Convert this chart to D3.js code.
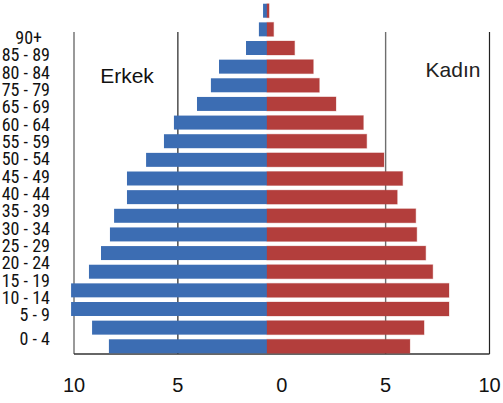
<!DOCTYPE html>
<html>
<head>
<meta charset="utf-8">
<script src="https://cdn.jsdelivr.net/npm/d3@7"></script>
<style>
  body { margin: 0; background: #fff; }
  svg { display: block; }
</style>
</head>
<body>
<svg width="503" height="403"></svg>
<script>
const width = 503;
const height = 403;

// age groups, top to bottom
const ages = ["90+", "85-89", "80-84", "75-79", "70-74", "65-69", "60-64", "55-59",
  "50-54", "45-49", "40-44", "35-39", "30-34", "25-29", "20-24", "15-19",
  "10-14", "5-9", "0-4"];

// percent of population
const erkek = [0.19, 0.39, 1.01, 2.31, 2.70, 3.37, 4.48, 4.96, 5.82, 6.74, 6.74,
  7.36, 7.56, 7.99, 8.57, 9.43, 9.43, 8.42, 7.61];
const kadin = [0.10, 0.32, 1.33, 2.23, 2.52, 3.32, 4.64, 4.80, 5.63, 6.53, 6.27,
  7.16, 7.21, 7.64, 7.98, 8.76, 8.76, 7.56, 6.88];

// the label column as printed (70 - 74 is missing in the original)
const ageLabels = ["90+", "85 - 89", "80 - 84", "75 - 79", "65 - 69", "60 - 64",
  "55 - 59", "50 - 54", "45 - 49", "40 - 44", "35 - 39", "30 - 34", "25 - 29",
  "20 - 24", "15 - 19", "10 - 14", "5 - 9", "0 - 4"];

const tickValues = [-10, -5, 0, 5, 10];
const gridValues = [-10, -5, 5, 10];

const blue = "#3c6db3";
const red = "#b33e3c";

const svg = d3.select("svg");

// axis scale (ticks + frame)
const ax = d3.scaleLinear().domain([-10, 10]).range([74, 489.5]);
// bars are drawn from x = 267 with the same unit size
const unit = (ax(10) - ax(-10)) / 20;
const bx = d3.scaleLinear().domain([-10, 10]).range([267 - 10 * unit, 267 + 10 * unit]);

const y = d3.scaleBand()
  .domain(ages)
  .range([0, 357])
  .paddingInner(0.25)
  .paddingOuter(0.2);

const frameTop = 32;
const frameBottom = 354;

// frame and grid
svg.append("g")
  .selectAll("line")
  .data(gridValues)
  .join("line")
  .attr("x1", d => ax(d))
  .attr("x2", d => ax(d))
  .attr("y1", frameTop)
  .attr("y2", frameBottom)
  .attr("stroke", d => d === 5 ? "#6e6e6e" : (d === -10 ? "#555" : "#222"))
  .attr("stroke-width", d => d === 5 ? 1.4 : 1.2);

svg.append("line")
  .attr("x1", ax(-10))
  .attr("x2", ax(10))
  .attr("y1", frameBottom)
  .attr("y2", frameBottom)
  .attr("stroke", "#333")
  .attr("stroke-width", 1.3);

// bars
svg.append("g")
  .selectAll("rect")
  .data(ages)
  .join("rect")
  .attr("x", (d, i) => bx(-erkek[i]))
  .attr("y", d => y(d))
  .attr("width", (d, i) => bx(0) - bx(-erkek[i]))
  .attr("height", y.bandwidth())
  .attr("fill", blue);

svg.append("g")
  .selectAll("rect")
  .data(ages)
  .join("rect")
  .attr("x", bx(0))
  .attr("y", d => y(d))
  .attr("width", (d, i) => bx(kadin[i]) - bx(0))
  .attr("height", y.bandwidth())
  .attr("fill", red)
  .attr("stroke", "rgba(179,62,60,0.3)")
  .attr("stroke-width", 1);

// age label column
const ly = d3.scalePoint()
  .domain(ageLabels.slice(0, ageLabels.length - 1))
  .range([37.7, 315]);
const lstep = ly.step();

svg.append("g")
  .selectAll("text")
  .data(ageLabels)
  .join("text")
  .attr("x", d => d === "90+" ? 42 : 50)
  .attr("y", (d, i) => i < ageLabels.length - 1 ? ly(d) : 315 + lstep * 1.38)
  .attr("dy", "0.35em")
  .attr("text-anchor", "end")
  .attr("font-family", "'Liberation Sans Narrow', 'Roboto Condensed', 'Liberation Sans', sans-serif")
  .attr("font-size", 18)
  .attr("fill", "#111")
  .text(d => d);

// tick labels
svg.append("g")
  .selectAll("text")
  .data(tickValues)
  .join("text")
  .attr("x", d => ax(d))
  .attr("y", 392)
  .attr("text-anchor", "middle")
  .attr("font-family", "'Liberation Sans', Arial, sans-serif")
  .attr("font-size", 20)
  .attr("fill", "#111")
  .text(d => Math.abs(d));

// titles
svg.append("text")
  .attr("x", 127)
  .attr("y", 83)
  .attr("text-anchor", "middle")
  .attr("font-family", "'Liberation Sans', Arial, sans-serif")
  .attr("font-size", 21)
  .attr("fill", "#111")
  .text("Erkek");

svg.append("text")
  .attr("x", 453)
  .attr("y", 77)
  .attr("text-anchor", "middle")
  .attr("font-family", "'Liberation Sans', Arial, sans-serif")
  .attr("font-size", 21)
  .attr("fill", "#222")
  .text("Kadın");
</script>
</body>
</html>
